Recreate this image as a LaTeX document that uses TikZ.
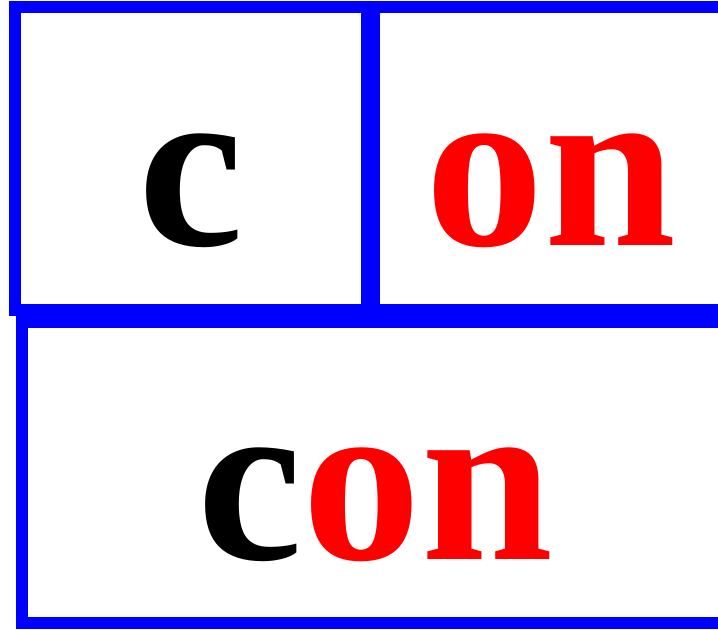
\documentclass[tikz,border=0pt]{standalone}
\usepackage{fontspec}
\newfontfamily\cellfont{Liberation Serif}
\usetikzlibrary{positioning}
\tikzset{
 cell/.style={draw=blue,line width=12bp,inner sep=0,outer sep=0},
 glyph/.style={anchor=base,inner sep=0,font=\cellfont\bfseries\fontsize{238}{238}\selectfont}
}

\begin{document}
\begin{tikzpicture}[x=1bp,y=-1bp]
\path[use as bounding box] (0,0) rectangle (718,630);
\clip (0,0) rectangle (718,630);
% boxes
\node[cell,minimum width=352bp,minimum height=303bp] (first) at (191,158.5) {};
\node[cell,minimum width=355bp,minimum height=303bp] (rest) at (551.5,158.5) {};
\node[cell,minimum width=707bp,minimum height=301bp] (whole) at (375.5,472.5) {};
% letters
\node[glyph] (firsttxt) at (191,245) {c};
\node[glyph,text=red] (resttxt) at (551,245) {on};
\node[glyph] (wholetxt) at (375.5,559) {c\textcolor{red}{on}};
\end{tikzpicture}
\end{document}
